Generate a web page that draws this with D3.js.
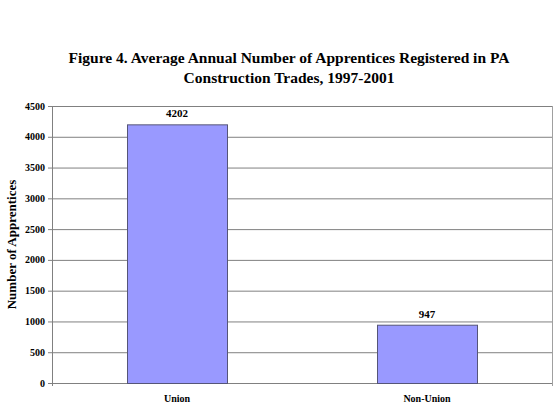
<!DOCTYPE html>
<head>
<meta charset="utf-8">
<title>Apprentices in PA construction trades</title>
<script src="https://cdn.jsdelivr.net/npm/d3@7"></script>
<style>
body { margin: 0; background: #fff; }
text { font-family: "Liberation Serif", "Times New Roman", serif; font-weight: bold; }
</style>
</head>
<body>
<script>
// data
var categories = ["Union", "Non-Union"];
var values = [4202, 947];
var yTicks = [0, 500, 1000, 1500, 2000, 2500, 3000, 3500, 4000, 4500];
var titleLines = ["Figure 4. Average Annual Number of Apprentices Registered in PA",
  "Construction Trades, 1997-2001"];

var width = 558, height = 405;
var plotLeft = 52, plotRight = 552, plotTop = 106, plotBottom = 383;

var svg = d3.select("body").append("svg")
  .attr("width", width)
  .attr("height", height);

var x = d3.scaleBand().domain(categories).range([plotLeft, plotRight])
  .paddingInner(0.6).paddingOuter(0.3);
var y = d3.scaleLinear().domain([0, 4500]).range([plotBottom, plotTop]);

// gridlines
svg.selectAll("line.grid")
  .data(yTicks).enter().append("line")
  .attr("class", "grid")
  .attr("x1", plotLeft - 4).attr("x2", plotRight)
  .attr("y1", function(d) {return y(d) + 0.5;})
  .attr("y2", function(d) {return y(d) + 0.5;})
  .attr("stroke", "#808080").attr("stroke-width", 1);

// axis lines
svg.append("line").attr("x1", plotLeft + 0.5).attr("x2", plotLeft + 0.5)
  .attr("y1", plotTop).attr("y2", plotBottom + 3)
  .attr("stroke", "#808080");
svg.append("line").attr("x1", plotRight + 0.5).attr("x2", plotRight + 0.5)
  .attr("y1", plotTop).attr("y2", plotBottom + 3)
  .attr("stroke", "#a0a0a0");

// tick labels
svg.selectAll("text.ytick")
  .data(yTicks).enter().append("text")
  .attr("class", "ytick")
  .attr("x", plotLeft - 7)
  .attr("y", function(d) {return y(d);})
  .attr("dy", "0.35em")
  .attr("text-anchor", "end")
  .attr("font-size", 10)
  .text(function(d) {return d;});

// bars
svg.selectAll("rect.bar")
  .data(values).enter().append("rect")
  .attr("class", "bar")
  .attr("x", function(d, i) {return x(categories[i]) + 0.5;})
  .attr("y", function(d) {return y(d) + 0.5;})
  .attr("width", x.bandwidth())
  .attr("height", function(d) {return y(0) - y(d);})
  .attr("fill", "#9999FF")
  .attr("stroke", "#555577").attr("stroke-width", 1);

// value labels
svg.selectAll("text.val")
  .data(values).enter().append("text")
  .attr("class", "val")
  .attr("x", function(d, i) {return x(categories[i]) + x.bandwidth() / 2;})
  .attr("y", function(d) {return y(d) - 7;})
  .attr("text-anchor", "middle")
  .attr("font-size", 11)
  .text(function(d) {return d;});

// category labels
svg.selectAll("text.cat")
  .data(categories).enter().append("text")
  .attr("class", "cat")
  .attr("x", function(d) {return x(d) + x.bandwidth() / 2;})
  .attr("y", 402)
  .attr("text-anchor", "middle")
  .attr("font-size", 10)
  .text(function(d) {return d;});

// y axis title
svg.append("text")
  .attr("transform", "translate(16," + ((plotTop + plotBottom) / 2) + ") rotate(-90)")
  .attr("text-anchor", "middle")
  .attr("font-size", 13)
  .text("Number of Apprentices");

// chart title
svg.selectAll("text.title")
  .data(titleLines).enter().append("text")
  .attr("class", "title")
  .attr("x", 289)
  .attr("y", function(d, i) {return 63 + i * 20;})
  .attr("text-anchor", "middle")
  .attr("font-size", 15.5)
  .text(function(d) {return d;});
</script>
</body>
